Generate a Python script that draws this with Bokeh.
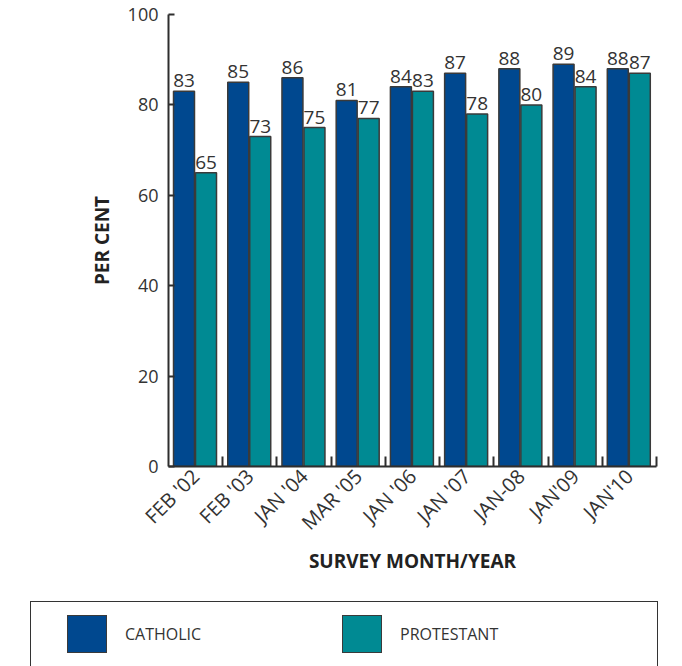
from math import pi
from bokeh.plotting import figure
from bokeh.layouts import column
from bokeh.models import ColumnDataSource, Range1d, FixedTicker, Div
from bokeh.core.properties import value
from bokeh.embed import file_html
from bokeh.resources import INLINE

# ---- data ----
surveys = ["FEB '02", "FEB '03", "JAN '04", "MAR '05", "JAN '06",
           "JAN '07", "JAN-08", "JAN'09", "JAN'10"]
catholic = [83, 85, 86, 81, 84, 87, 88, 89, 88]
protestant = [65, 73, 75, 77, 83, 78, 80, 84, 87]
y_ticks = [0, 20, 40, 60, 80, 100]
series_names = ["CATHOLIC", "PROTESTANT"]

# ---- style ----
FONT = "Open Sans"
CATH_COLOR = "#00488f"
PROT_COLOR = "#008a93"
INK = "#2e2e2e"
TEXT = "#333333"
BAR_LINE = "#3a3a3a"

n = len(surveys)
idx = list(range(n))
src = ColumnDataSource(dict(
    cx=[i + 0.286 for i in idx],
    px=[i + 0.692 for i in idx],
    cath=catholic,
    prot=protestant,
    cath_lbl=[str(v) for v in catholic],
    prot_lbl=[str(v) for v in protestant],
))

p = figure(width=682, height=600, output_backend="svg", toolbar_location=None,
           x_range=Range1d(0, n), y_range=Range1d(0, 100),
           min_border_left=168, min_border_right=26,
           min_border_top=14, min_border_bottom=134)
p.title.visible = False
p.outline_line_color = None
p.xgrid.visible = False
p.ygrid.visible = False

BAR_W = 0.387
r_c = p.vbar(x="cx", top="cath", bottom=0, width=BAR_W, source=src,
             fill_color=CATH_COLOR, line_color=BAR_LINE, line_width=1.5)
r_p = p.vbar(x="px", top="prot", bottom=0, width=BAR_W, source=src,
             fill_color=PROT_COLOR, line_color=BAR_LINE, line_width=1.5)

for xc, yc, tc in (("cx", "cath", "cath_lbl"), ("px", "prot", "prot_lbl")):
    p.text(x=xc, y=yc, text=tc, source=src, text_align="center",
           text_baseline="bottom", y_offset=-4,
           text_font=value(FONT), text_font_size="19px", text_color=TEXT)

# ---- y axis ----
ya = p.yaxis[0]
ya.ticker = FixedTicker(ticks=y_ticks)
ya.major_tick_in = 6
ya.major_tick_out = 0
ya.minor_tick_in = 0
ya.minor_tick_out = 0
ya.axis_line_width = 2
ya.axis_line_color = INK
ya.major_tick_line_width = 2
ya.major_tick_line_color = INK
ya.major_label_standoff = 10
ya.major_label_text_font = FONT
ya.major_label_text_font_size = "18px"
ya.major_label_text_color = TEXT
ya.axis_label = "PER CENT"
ya.axis_label_text_font = FONT
ya.axis_label_text_font_style = "bold"
ya.axis_label_text_font_size = "19px"
ya.axis_label_text_color = "#222222"
ya.axis_label_standoff = 10

# ---- x axis ----
xa = p.xaxis[0]
xa.ticker = FixedTicker(ticks=[i + 0.5 for i in idx],
                        minor_ticks=[i + 1 for i in idx])
xa.major_label_overrides = {i + 0.5: s for i, s in zip(idx, surveys)}
xa.major_tick_in = 0
xa.major_tick_out = 0
xa.minor_tick_in = 10
xa.minor_tick_out = 0
xa.minor_tick_line_width = 2
xa.minor_tick_line_color = INK
xa.axis_line_width = 2
xa.axis_line_color = INK
xa.major_label_orientation = pi / 4
xa.major_label_standoff = 6
xa.major_label_text_font = FONT
xa.major_label_text_font_size = "20px"
xa.major_label_text_color = TEXT
xa.axis_label = "SURVEY MONTH/YEAR"
xa.axis_label_text_font = FONT
xa.axis_label_text_font_style = "bold"
xa.axis_label_text_font_size = "19px"
xa.axis_label_text_color = "#222222"
xa.axis_label_standoff = 0

# ---- legend strip (HTML, below the chart) ----
def swatch(left, color, name):
    return (
        f'<div style="position:absolute;left:{left}px;top:15px;width:40px;height:38px;'
        f'box-sizing:border-box;background:{color};border:1px solid {BAR_LINE};"></div>'
        f'<div style="position:absolute;left:{left + 58}px;top:23px;line-height:22px;'
        f'font-family:\'{FONT}\';font-size:16px;color:{TEXT};white-space:nowrap;">{name}</div>'
    )

legend_html = (
    '<div style="position:relative;width:682px;height:66px;overflow:hidden;margin:0;padding:0;">'
    '<div style="position:absolute;left:30px;top:1px;width:628px;height:90px;'
    'box-sizing:border-box;border:1px solid #333333;"></div>'
    + swatch(67, CATH_COLOR, series_names[0])
    + swatch(342, PROT_COLOR, series_names[1])
    + '</div>'
)
legend = Div(text=legend_html, width=682, height=66, margin=0)

layout = column(p, legend, spacing=0)
open("out.html", "w").write(file_html(layout, INLINE))
